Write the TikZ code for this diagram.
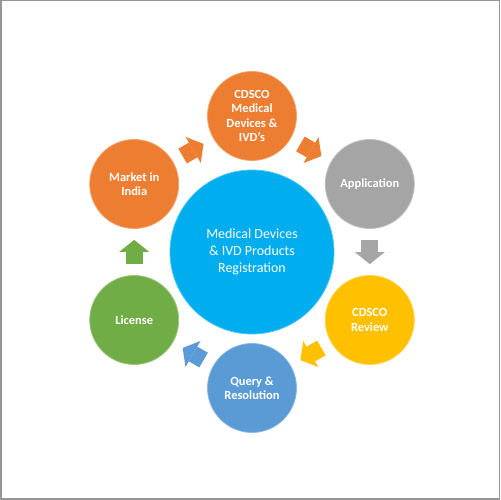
\documentclass[tikz,border=0pt]{standalone}
\usepackage{fontspec}
\setmainfont{Carlito}
\usetikzlibrary{calc,arrows.meta}
\definecolor{hubFill}{RGB}{0,174,239}
\definecolor{orangeFill}{RGB}{237,125,49}
\definecolor{greyFill}{RGB}{165,165,165}
\definecolor{goldFill}{RGB}{255,192,0}
\definecolor{blueFill}{RGB}{91,155,213}
\definecolor{greenFill}{RGB}{112,173,71}
\definecolor{frameGrey}{RGB}{150,150,150}

\begin{document}
\begin{tikzpicture}[
  x=1bp,y=1bp,
  stage/.style={circle,minimum size=89bp,inner sep=0pt,align=center,
                text=white,line width=0.8bp,
                font=\fontsize{12.5}{14.3}\selectfont\bfseries},
  core/.style={circle,minimum size=164bp,inner sep=0pt,align=center,
               text=white,fill=hubFill,draw=hubFill!70!white,line width=0.8bp,
               font=\fontsize{14}{16.8}\selectfont},
  flow/.style={line width=17bp,shorten <=11bp,shorten >=11bp,
               -{Triangle[length=12bp 0 0,width=30bp 0 0,line width'=0pt]}}
]
\useasboundingbox (0,0) rectangle (500,500);
\draw[frameGrey,line width=1.5bp] (0.75,0.75) rectangle (499.25,499.25);

% ==========  Hub  ==========
\node[core] (hub) at (252,248)
  {Medical Devices\\\& IVD Products\\Registration};

% ==========  Stages round the hub  ==========
\node[stage,fill=orangeFill,draw=orangeFill!70!white] (cdsco) at ($(hub)+(90:136bp)$)
  {CDSCO\\Medical\\Devices \&\\IVD’s};
\node[stage,fill=greyFill,draw=greyFill!70!white] (app) at ($(hub)+(30:136bp)$)
  {Application};
\node[stage,fill=goldFill,draw=goldFill!70!white] (review) at ($(hub)+(-30:136bp)$)
  {CDSCO\\Review};
\node[stage,fill=blueFill,draw=blueFill!70!white] (query) at ($(hub)+(-90:136bp)$)
  {Query \&\\Resolution};
\node[stage,fill=greenFill,draw=greenFill!70!white] (lic) at ($(hub)+(-150:136bp)$)
  {License};
\node[stage,fill=orangeFill,draw=orangeFill!70!white] (mkt) at ($(hub)+(150:136bp)$)
  {Market in\\India};

% ==========  Block arrows (clockwise)  ==========
\draw[flow,orangeFill] (mkt) -- (cdsco);
\draw[flow,orangeFill] (cdsco) -- (app);
\draw[flow,greyFill] (app) -- (review);
\draw[flow,goldFill] (review) -- (query);
\draw[flow,blueFill] (query) -- (lic);
\draw[flow,greenFill] (lic) -- (mkt);

\end{tikzpicture}
\end{document}
